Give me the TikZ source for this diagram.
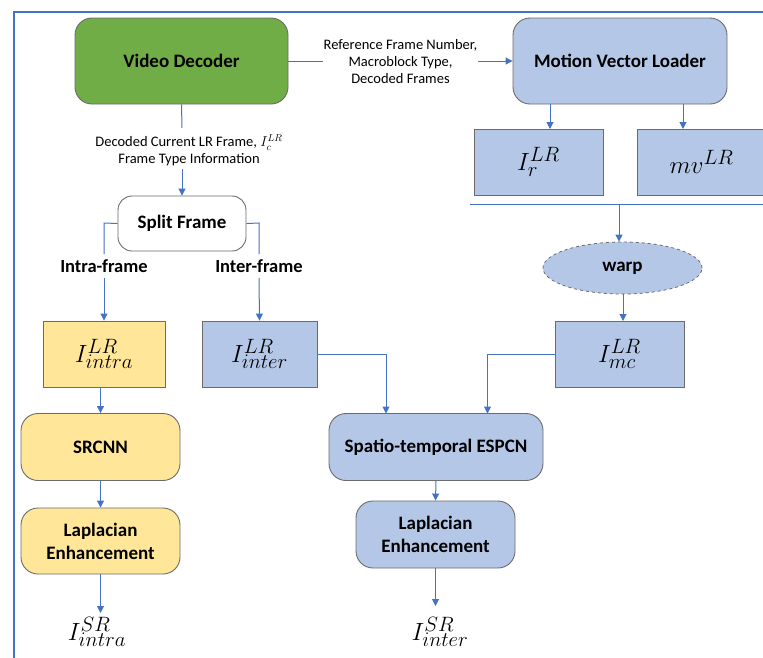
\documentclass[tikz,border=0pt]{standalone}
\usepackage{fontspec}
\setmainfont{Carlito}
\usetikzlibrary{arrows.meta,shapes.geometric}
\definecolor{vdgreen}{HTML}{70AD47}
\definecolor{mvblue}{HTML}{B4C7E7}
\definecolor{intrayellow}{HTML}{FFE699}
\definecolor{linkblue}{HTML}{4472C4}
\definecolor{edgegray}{HTML}{6B6B6B}
\tikzset{
  blk/.style={draw=edgegray, line width=0.9pt, align=center, inner sep=0pt},
  rbox/.style={blk, rounded corners=17pt, font=\bfseries\fontsize{19}{23}\selectfont},
  sbox/.style={blk, font=\fontsize{28}{30}\selectfont},
  link/.style={draw=linkblue, line width=1pt},
  arr/.style={link, -{Triangle[length=7pt,width=7pt]}},
  lbl/.style={align=center, inner sep=0pt, font=\fontsize{14.5}{17}\selectfont},
  blbl/.style={align=center, inner sep=0pt, font=\bfseries\fontsize{18.5}{22}\selectfont},
  outmath/.style={inner sep=0pt, font=\fontsize{28}{30}\selectfont}
}
\begin{document}
\begin{tikzpicture}[x=1pt,y=-1pt]
\useasboundingbox (0,0) rectangle (763,657);
% outer frame
\draw[linkblue, line width=1.4pt] (14,670) -- (14,12) -- (780,12);

% top row
\node[rbox, fill=vdgreen, minimum width=213pt, minimum height=86pt] (vd) at (181.5,61) {Video Decoder};
\node[rbox, fill=mvblue, minimum width=214pt, minimum height=86pt] (mvl) at (620,61) {Motion Vector Loader};
\node[lbl] (reflbl) at (400.5,62) {Reference Frame Number,\\Macroblock Type,\\Decoded Frames};
\coordinate (refin) at (323,61);
\coordinate (refout) at (478,61);
\draw[link] (vd.east) -- (refin);
\draw[arr] (refout) -- (mvl.west);

% motion vector loader outputs
\node[sbox, fill=mvblue, minimum width=129pt, minimum height=66pt] (ir) at (538.5,162) {$I_r^{LR}$};
\node[sbox, fill=mvblue, minimum width=129pt, minimum height=66pt] (mv) at (701.5,162) {$mv^{LR}$};
\draw[arr] (550,104) -- (550,129);
\draw[arr] (683,104) -- (683,129);
\coordinate (busL) at (470,204);
\coordinate (busR) at (780,204);
\draw[link] (busL) -- (busR);

% warping
\node[ellipse, draw=edgegray, dashed, line width=0.8pt, fill=mvblue, minimum width=159pt, minimum height=52pt, inner sep=0pt, font=\bfseries\fontsize{19}{22}\selectfont] (warp) at (622.5,268) {warp};
\coordinate (busdrop) at (619,204);
\draw[arr] (busdrop) -- (busdrop |- warp.north);
\node[sbox, fill=mvblue, minimum width=129pt, minimum height=66pt] (imc) at (619.5,354) {$I_{mc}^{LR}$};
\draw[arr] (623,294) -- (623,321);

% decoder output and split
\node[rbox, fill=white, minimum width=128pt, minimum height=55pt, rounded corners=14pt] (split) at (182,223.5) {Split Frame};
\node[lbl] (curlbl) at (189,150.5) {Decoded Current LR Frame, $I_c^{LR}$\\Frame Type Information};
\draw[link] (vd.south) -- (182,128);
\draw[arr] (182,169) -- (split.north);

\node[blbl] (intralbl) at (104,266) {Intra-frame};
\node[blbl] (interlbl) at (259,266) {Inter-frame};
\node[sbox, fill=intrayellow, minimum width=122pt, minimum height=66pt] (iintra) at (104,354) {$I_{intra}^{LR}$};
\node[sbox, fill=mvblue, minimum width=115pt, minimum height=66pt] (iinter) at (259.5,354) {$I_{inter}^{LR}$};
\draw[link] (split.west) -- (104,223) -- (104,254);
\draw[arr] (104,278) -- (iintra.north);
\draw[link] (split.east) -- (259,223) -- (259,254);
\draw[arr] (259,278) -- (iinter.north);

% intra branch
\node[rbox, fill=intrayellow, minimum width=159pt, minimum height=67pt] (srcnn) at (100.5,447) {SRCNN};
\node[rbox, fill=intrayellow, minimum width=159pt, minimum height=66pt] (lapl) at (100.5,541) {Laplacian\\Enhancement};
\draw[arr] (srcnn.north |- iintra.south) -- (srcnn.north);
\draw[arr] (srcnn.south) -- (lapl.north);
\node[outmath] (srintra) at (97,632) {$I_{intra}^{SR}$};
\draw[arr] (lapl.south) -- (100.5,613);

% inter branch
\node[rbox, fill=mvblue, minimum width=214pt, minimum height=67pt] (espcn) at (436,447) {Spatio-temporal ESPCN};
\node[rbox, fill=mvblue, minimum width=159pt, minimum height=67pt] (lapr) at (435.5,534.5) {Laplacian\\Enhancement};
\draw[arr] (iinter.east) -- (386,354) -- (386,413.5);
\draw[arr] (imc.west) -- (487.5,354) -- (487.5,413.5);
\draw[arr] (espcn.south) -- (lapr.north);
\node[outmath] (srinter) at (440,632) {$I_{inter}^{SR}$};
\draw[arr] (lapr.south) -- (435.5,606);
\end{tikzpicture}
\end{document}
